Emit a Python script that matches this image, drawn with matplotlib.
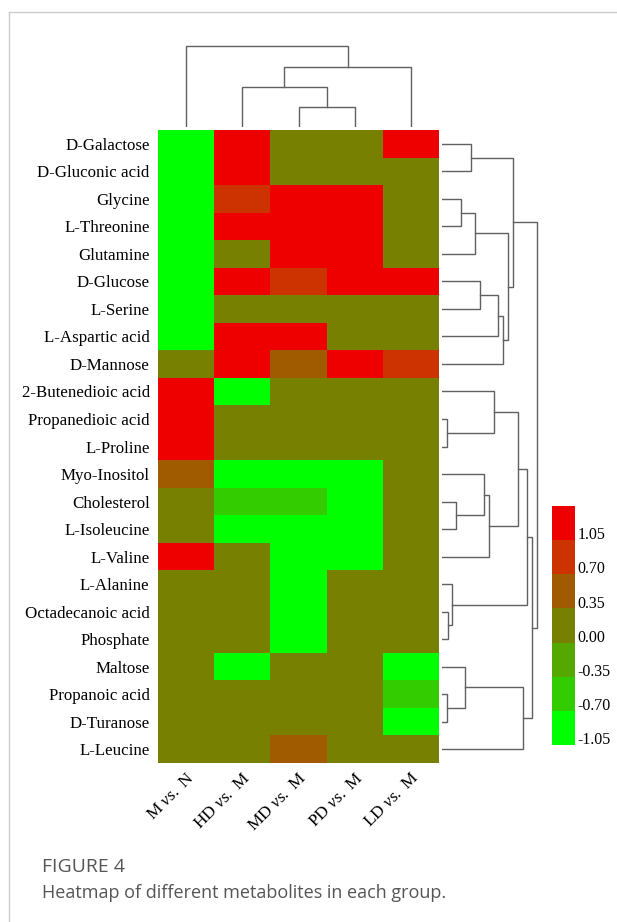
import numpy as np
import matplotlib
matplotlib.use('Agg')
import matplotlib.pyplot as plt
from matplotlib.colors import ListedColormap, BoundaryNorm
from matplotlib.cm import ScalarMappable
from matplotlib.lines import Line2D

plt.rcParams['font.family'] = ['Liberation Serif', 'DejaVu Serif']
plt.rcParams['mathtext.fontset'] = 'custom'
plt.rcParams['mathtext.rm'] = 'Liberation Serif'
plt.rcParams['mathtext.it'] = 'Liberation Serif:italic'

metabolites = ['D-Galactose', 'D-Gluconic acid', 'Glycine', 'L-Threonine', 'Glutamine',
               'D-Glucose', 'L-Serine', 'L-Aspartic acid', 'D-Mannose', '2-Butenedioic acid',
               'Propanedioic acid', 'L-Proline', 'Myo-Inositol', 'Cholesterol', 'L-Isoleucine',
               'L-Valine', 'L-Alanine', 'Octadecanoic acid', 'Phosphate', 'Maltose',
               'Propanoic acid', 'D-Turanose', 'L-Leucine']
comparisons = [r'M $\it{vs.}$ N', r'HD $\it{vs.}$ M', r'MD $\it{vs.}$ M',
               r'PD $\it{vs.}$ M', r'LD $\it{vs.}$ M']

# one list per comparison, top row first
m_vs_n  = [-1.05, -1.05, -1.05, -1.05, -1.05, -1.05, -1.05, -1.05, 0, 1.05, 1.05, 1.05,
           0.35, 0, 0, 1.05, 0, 0, 0, 0, 0, 0, 0]
hd_vs_m = [1.05, 1.05, 0.70, 1.05, 0, 1.05, 0, 1.05, 1.05, -1.05, 0, 0,
           -1.05, -0.70, -1.05, 0, 0, 0, 0, -1.05, 0, 0, 0]
md_vs_m = [0, 0, 1.05, 1.05, 1.05, 0.70, 0, 1.05, 0.35, 0, 0, 0,
           -1.05, -0.70, -1.05, -1.05, -1.05, -1.05, -1.05, 0, 0, 0, 0.35]
pd_vs_m = [0, 0, 1.05, 1.05, 1.05, 1.05, 0, 0, 1.05, 0, 0, 0,
           -1.05, -1.05, -1.05, -1.05, 0, 0, 0, 0, 0, 0, 0]
ld_vs_m = [1.05, 0, 0, 0, 0, 1.05, 0, 0, 0.70, 0, 0, 0,
           0, 0, 0, 0, 0, 0, 0, -1.05, -0.70, -1.05, 0]

levels = [-1.05, -0.70, -0.35, 0.00, 0.35, 0.70, 1.05]
level_colors = ['#00ff00', '#33cc00', '#55a800', '#778000', '#a05a00', '#cc3300', '#ee0000']

# hierarchical merges (child a, child b, distance); new cluster ids follow the leaves
row_merges = [(0, 1, 28.7), (2, 3, 19), (24, 4, 33), (5, 6, 38), (26, 7, 56), (27, 8, 61),
              (25, 28, 66), (23, 29, 71), (10, 11, 4.7), (9, 31, 52), (13, 14, 14),
              (12, 33, 42), (34, 15, 47.3), (32, 35, 76), (17, 18, 6), (16, 37, 9.7),
              (36, 38, 84.7), (20, 21, 4.7), (19, 40, 23), (41, 22, 80.7), (39, 42, 89.7),
              (30, 43, 94.7)]
col_merges = [(2, 3, 20), (1, 5, 40), (6, 4, 60), (0, 7, 81)]

W, H = 617, 922
fig = plt.figure(figsize=(W / 100, H / 100), dpi=100)


def px_axes(l, t, r, b):
    return fig.add_axes([l / W, 1 - b / H, (r - l) / W, (b - t) / H])


def draw_dendro(ax, merges, n, orient):
    pos = {i: i + 0.5 for i in range(n)}
    hgt = {i: 0.0 for i in range(n)}
    for k, (a, b, h) in enumerate(merges):
        xs = [pos[a], pos[a], pos[b], pos[b]]
        ys = [hgt[a], h, h, hgt[b]]
        if orient == 'top':
            ax.plot(xs, ys, color='#606060', lw=1.0, solid_joinstyle='miter')
        else:
            ax.plot(ys, xs, color='#606060', lw=1.0, solid_joinstyle='miter')
        pos[n + k] = (pos[a] + pos[b]) / 2
        hgt[n + k] = h
    ax.axis('off')


data = np.array([m_vs_n, hd_vs_m, md_vs_m, pd_vs_m, ld_vs_m]).T
cmap = ListedColormap(level_colors)
bounds = np.array(levels[0] - 0.175 + 0.35 * np.arange(len(levels) + 1))
norm = BoundaryNorm(bounds, cmap.N)

ax = px_axes(158, 130, 439, 763)
ax.pcolormesh(np.arange(data.shape[1] + 1), np.arange(data.shape[0] + 1), data,
              cmap=cmap, norm=norm)
ax.set_xlim(0, data.shape[1])
ax.set_ylim(data.shape[0], 0)
ax.set_yticks(np.arange(len(metabolites)) + 0.5)
ax.set_yticklabels(metabolites, fontsize=12.2)
ax.set_xticks(np.arange(len(comparisons)) + 0.5)
ax.set_xticklabels(comparisons, fontsize=12.5, rotation=45, ha='right', va='top',
                   rotation_mode='anchor')
ax.tick_params(length=0, pad=6)
ax.tick_params(axis='x', pad=5)
for s in ax.spines.values():
    s.set_visible(False)

# row dendrogram
axr = px_axes(442, 130, 542, 763)
draw_dendro(axr, row_merges, len(metabolites), 'right')
axr.set_xlim(0, 100)
axr.set_ylim(len(metabolites), 0)

# column dendrogram
axc = px_axes(158, 42, 439, 127)
draw_dendro(axc, col_merges, len(comparisons), 'top')
axc.set_xlim(0, len(comparisons))
axc.set_ylim(0, 85)

# colour key
cax = px_axes(552, 506, 575, 745)
cb = fig.colorbar(ScalarMappable(norm=norm, cmap=cmap), cax=cax, boundaries=bounds)
cb.set_ticks([v - 0.105 for v in levels])
cb.set_ticklabels(['%.2f' % v for v in levels])
cb.ax.minorticks_off()
cb.ax.tick_params(length=0, pad=2, labelsize=11.5)
cb.outline.set_visible(False)

# page frame
fig.add_artist(Line2D([9 / W, 9 / W], [0, 1 - 12 / H], transform=fig.transFigure,
                      color='#cccccc', lw=1))
fig.add_artist(Line2D([9 / W, 1], [1 - 12 / H, 1 - 12 / H], transform=fig.transFigure,
                      color='#cccccc', lw=1))

fig.text(42 / W, 1 - 867 / H, 'FIGURE 4', family='Open Sans', fontsize=14,
         color='#555555', va='center')
fig.text(42 / W, 1 - 893 / H, 'Heatmap of different metabolites in each group.',
         family='Open Sans', fontsize=13, color='#555555', va='center')

fig.savefig('out.png', dpi=100)
